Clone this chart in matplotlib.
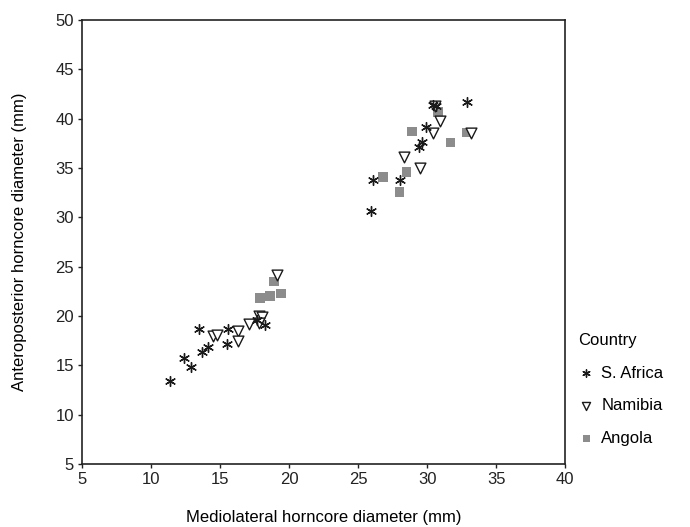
import matplotlib.pyplot as plt

plt.rcParams['font.family'] = ['Liberation Sans', 'DejaVu Sans']

# S. Africa
sa_x = [11.4, 12.4, 12.9, 13.5, 13.7, 14.15, 15.6, 15.5, 17.66, 18.26,
        25.9, 26.1, 28.0, 29.4, 29.6, 29.9, 30.4, 30.65, 32.9]
sa_y = [13.4, 15.7, 14.8, 18.65, 16.4, 16.9, 18.65, 17.2, 19.6, 19.1,
        30.6, 33.8, 33.8, 37.1, 37.6, 39.2, 41.4, 41.3, 41.7]

# Namibia
na_x = [14.5, 14.8, 16.3, 16.3, 17.1, 17.8, 18.0, 17.8, 19.15,
        28.3, 29.5, 30.4, 30.9, 30.6, 33.2]
na_y = [18.0, 18.1, 18.5, 17.5, 19.2, 20.0, 19.9, 19.3, 24.15,
        36.1, 35.0, 38.5, 39.8, 41.3, 38.6]

# Angola
an_x = [17.9, 18.6, 18.9, 19.4, 26.8, 28.5, 28.0, 28.9, 30.8, 31.7, 32.9]
an_y = [21.8, 22.0, 23.5, 22.3, 34.1, 34.6, 32.6, 38.7, 40.7, 37.6, 38.6]

fig = plt.figure(figsize=(6.9, 5.27), dpi=100)
ax = fig.add_axes([0.119, 0.1195, 0.7, 0.8425])

ax.scatter(sa_x, sa_y, marker=(6, 2, 0), s=50, color='#1a1a1a', linewidths=1.0, label='S. Africa', zorder=3)
ax.scatter(na_x, na_y, marker='v', s=60, facecolors='white', edgecolors='#1a1a1a', linewidths=1.0, label='Namibia', zorder=2)
ax.scatter(an_x, an_y, marker='s', s=48, color='#8c8c8c', edgecolors='none', label='Angola', zorder=1)

for sp in ax.spines.values():
    sp.set_linewidth(1.2)
    sp.set_color('#222222')

ax.set_xlim(5, 40)
ax.set_ylim(5, 50)
ax.set_xticks(range(5, 41, 5))
ax.set_yticks(range(5, 51, 5))
ax.tick_params(labelsize=12, direction='out', length=3, width=1, pad=3, colors='#222222')
ax.set_xlabel('Mediolateral horncore diameter (mm)', fontsize=12, labelpad=16)
ax.set_ylabel('Anteroposterior horncore diameter (mm)', fontsize=12, labelpad=20)

leg = ax.legend(title='Country', loc='upper left', bbox_to_anchor=(578 / 690, 1 - 333 / 527),
                bbox_transform=fig.transFigure, frameon=False, fontsize=12, title_fontsize=12,
                handlelength=1.0, handletextpad=0.4, labelspacing=1.05, markerscale=0.75,
                borderpad=0, borderaxespad=0, alignment='left')

plt.savefig('out.png')
